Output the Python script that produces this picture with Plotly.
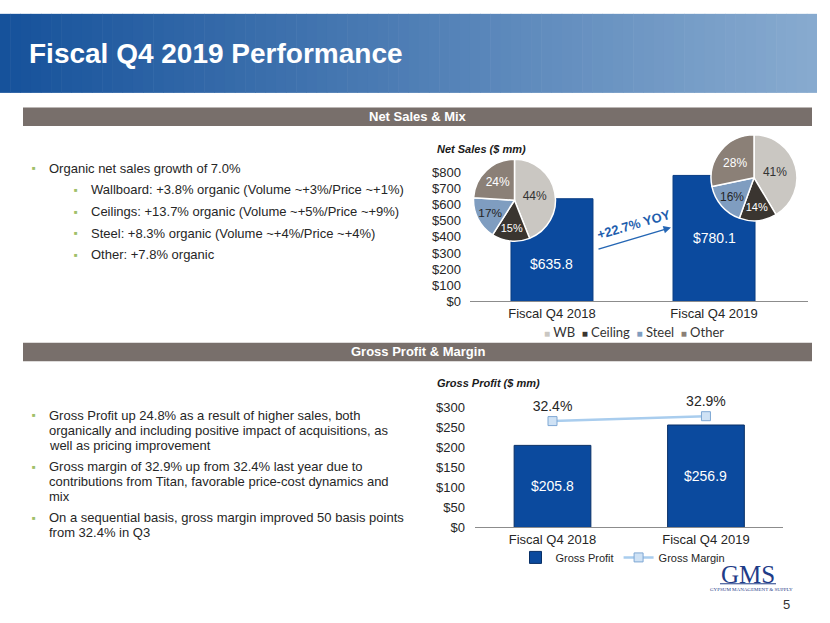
import plotly.graph_objects as go

W, H = 830, 623

# ---------------- data ----------------
periods = ["Fiscal Q4 2018", "Fiscal Q4 2019"]
net_sales = [635.8, 780.1]
mix_labels = ["WB", "Ceiling", "Steel", "Other"]
mix_2018 = [44, 15, 17, 24]
mix_2019 = [41, 14, 16, 28]
gross_profit = [205.8, 256.9]
gross_margin = [32.4, 32.9]
yoy_text = "+22.7% YOY"
net_ticks = [0, 100, 200, 300, 400, 500, 600, 700, 800]
gp_ticks = [0, 50, 100, 150, 200, 250, 300]

title = "Fiscal Q4 2019 Performance"
section1 = "Net Sales & Mix"
section2 = "Gross Profit & Margin"
bullets_top = [
    (0, "Organic net sales growth of 7.0%"),
    (1, "Wallboard: +3.8% organic (Volume ~+3%/Price ~+1%)"),
    (1, "Ceilings: +13.7% organic (Volume ~+5%/Price ~+9%)"),
    (1, "Steel: +8.3% organic (Volume ~+4%/Price ~+4%)"),
    (1, "Other: +7.8% organic"),
]
bullets_bottom = [
    ["Gross Profit up 24.8% as a result of higher sales, both",
     "organically and including positive impact of acquisitions, as",
     "well as pricing improvement"],
    ["Gross margin of 32.9% up from 32.4% last year due to",
     "contributions from Titan, favorable price-cost dynamics and",
     "mix"],
    ["On a sequential basis, gross margin improved 50 basis points",
     "from 32.4% in Q3"],
]

# ---------------- styles ----------------
FONT = "Arial, Liberation Sans, sans-serif"
BAR_BLUE = "#0b4a9e"
MIX_COLORS = ["#cac7c2", "#3a3530", "#7f9dc0", "#8b8077"]
MIX_TEXT = ["#333333", "#ffffff", "#262626", "#ffffff"]
GREY_BAR = "#786f6b"
TXT = "#262626"
BULLET = "#9fbf6a"


def px(x):
    return x / W


def py(y):
    return 1 - y / H


fig = go.Figure()

# Net sales bars
fig.add_trace(go.Bar(x=periods, y=net_sales, marker=dict(color=BAR_BLUE, line=dict(color="#083c82", width=1)),
                     width=0.506, xaxis="x", yaxis="y", showlegend=False, hoverinfo="skip"))

# Pies
for vals, dom in [(mix_2018, ([472, 557], [240, 156])), (mix_2019, ([710, 798], [219, 131]))]:
    fig.add_trace(go.Pie(labels=mix_labels, values=vals, sort=False, direction="clockwise", rotation=0,
                         marker=dict(colors=MIX_COLORS, line=dict(color="white", width=1.5)),
                         texttemplate="%{value}%", textposition="inside", insidetextorientation="horizontal",
                         textfont=dict(family=FONT, size=12, color=MIX_TEXT),
                         domain=dict(x=[px(dom[0][0]), px(dom[0][1])], y=[py(dom[1][0]), py(dom[1][1])]),
                         showlegend=False, hoverinfo="skip"))

# Gross profit bars
fig.add_trace(go.Bar(x=periods, y=gross_profit, name="Gross Profit",
                     marker=dict(color=BAR_BLUE, line=dict(color="#082f66", width=1)),
                     width=0.50, xaxis="x2", yaxis="y2", hoverinfo="skip"))
# Gross margin line
fig.add_trace(go.Scatter(x=periods, y=gross_margin, name="Gross Margin", mode="lines+markers+text",
                         text=[f"{v}%" for v in gross_margin], textposition="top center", cliponaxis=False,
                         textfont=dict(family=FONT, size=14, color=TXT),
                         line=dict(color="#a9cdee", width=2.5),
                         marker=dict(symbol="square", size=9, color="#cfe2f5", line=dict(color="#7fa8d4", width=1)),
                         xaxis="x2", yaxis="y3", hoverinfo="skip"))

shapes = []
# Header gradient
n = 80
x0h, x1h, y0h, y1h = 0, 817, 7, 88
c0 = (22, 82, 155)
c1 = (135, 170, 207)
for i in range(n):
    t = i / (n - 1)
    col = tuple(int(round(c0[k] + (c1[k] - c0[k]) * t)) for k in range(3))
    xa = x0h + (x1h - x0h) * i / n
    xb = x0h + (x1h - x0h) * (i + 1) / n + 0.6
    shapes.append(dict(type="rect", xref="paper", yref="paper", x0=px(xa), x1=px(min(xb, x1h)),
                       y0=py(y1h), y1=py(y0h), line=dict(width=0), fillcolor="rgb(%d,%d,%d)" % col, layer="below"))
# Section bars
for (ya, yb) in [(103, 122), (344, 363)]:
    shapes.append(dict(type="rect", xref="paper", yref="paper", x0=px(23), x1=px(812), y0=py(yb), y1=py(ya),
                       line=dict(width=0), fillcolor=GREY_BAR, layer="below"))
# GMS logo underline
shapes.append(dict(type="line", xref="paper", yref="paper", x0=px(720), x1=px(776), y0=py(591), y1=py(591),
                   line=dict(color="#1f3c88", width=1)))


def note(text, x, y, size, color, family=FONT, xanchor="center", **kw):
    return dict(text=text, x=px(x), y=py(y), xref="paper", yref="paper", xanchor=xanchor, yanchor="middle",
                showarrow=False, font=dict(family=family, size=size, color=color), **kw)


ann = []
ann.append(note(f"<b>{title}</b>", 27, 48, 28, "white", xanchor="left"))
for txt, yc in [(section1, 112.5), (section2, 353.5)]:
    ann.append(note(f"<b>{txt}</b>", 417.5, yc, 13, "white"))

# Top bullets
top_y = [165, 187.3, 209.7, 231.7, 253.7]
for (lvl, txt), yy in zip(bullets_top, top_y):
    bx = 34 if lvl == 0 else 76
    tx = 47 if lvl == 0 else 89
    ann.append(note("■", bx, yy, 6, BULLET))
    ann.append(note(txt, tx, yy, 13, TXT, xanchor="left"))
# Bottom bullets
bot_start = [418.3, 471, 523.3]
for lines, y0 in zip(bullets_bottom, bot_start):
    ann.append(note("■", 34, y0, 6, BULLET))
    for j, line in enumerate(lines):
        ann.append(note(line, 47, y0 + j * 15.4, 13, TXT, xanchor="left"))

# Chart titles
ann.append(note("<b><i>Net Sales ($ mm)</i></b>", 435, 145, 11, "#1a1a1a", xanchor="left"))
ann.append(note("<b><i>Gross Profit ($ mm)</i></b>", 435, 385, 11, "#1a1a1a", xanchor="left"))

# Bar value labels
shift_top = [-14, 0]
for p, v, s in zip(periods, net_sales, shift_top):
    ann.append(dict(text=f"${v:.1f}", x=p, y=v / 2, xref="x", yref="y", yshift=s, showarrow=False,
                    xanchor="center", yanchor="middle", font=dict(family=FONT, size=14, color="white")))
for p, v in zip(periods, gross_profit):
    ann.append(dict(text=f"${v:.1f}", x=p, y=v / 2, xref="x2", yref="y2", showarrow=False,
                    xanchor="center", yanchor="middle", font=dict(family=FONT, size=14, color="white")))

# YOY arrow and text
ann.append(dict(text="", x=px(671), y=py(226), xref="paper", yref="paper", ax=-74, ay=22, axref="pixel",
                ayref="pixel", showarrow=True, arrowhead=2, arrowsize=1, arrowwidth=1.5, arrowcolor="#2466b4"))
ann.append(note(f"<b>{yoy_text}</b>", 634, 223, 13, "#1f5fae", textangle=-16))

# Pie legend (custom)
leg_parts = []
for lab, col in zip(mix_labels, MIX_COLORS):
    leg_parts.append(f"<span style='color:{col};font-size:10px'>■</span> {lab}")
ann.append(note("  ".join(leg_parts), 634, 333, 13, "#333333", family="Lato, Open Sans, sans-serif"))

# Logo & page number
SERIF = "Liberation Serif, Times New Roman, serif"
ann.append(note("GMS", 748, 581, 25, "#1f3c88", family=SERIF, height=20))
ann.append(note("GYPSUM MANAGEMENT &amp; SUPPLY", 751, 597, 5, "#1f3c88", family=SERIF))
ann.append(note("5", 786, 612, 13, "#333333"))

axis_common = dict(showgrid=False, zeroline=False, ticks="", tickfont=dict(family=FONT, size=13, color=TXT),
                   fixedrange=True)

fig.update_layout(
    width=W, height=H, margin=dict(l=0, r=0, t=0, b=0), autosize=False,
    paper_bgcolor="white", plot_bgcolor="rgba(0,0,0,0)",
    font=dict(family=FONT, color=TXT),
    xaxis=dict(domain=[px(470), px(808)], anchor="y", range=[-0.506, 1.58], showline=True, linecolor="#8c8c8c",
               linewidth=1.3, **axis_common),
    yaxis=dict(domain=[py(301.7), py(169.3)], anchor="x", range=[0, 800], tickvals=net_ticks,
               ticktext=[f"${v}" for v in net_ticks], showline=False, ticklabelstandoff=8, **axis_common),
    xaxis2=dict(domain=[px(475), px(783)], anchor="y2", range=[-0.505, 1.502], showline=True, linecolor="#8c8c8c",
                linewidth=1.3, **axis_common),
    yaxis2=dict(domain=[py(533.3), py(410.7)], anchor="x2", range=[0, 300], tickvals=gp_ticks,
                ticktext=[f"${v}" for v in gp_ticks], showline=False, ticklabelstandoff=9, **axis_common),
    yaxis3=dict(overlaying="y2", anchor="x2", range=[21.5, 33.76], visible=False, fixedrange=True),
    showlegend=True,
    legend=dict(orientation="h", x=px(623), y=py(564), xanchor="center", yanchor="middle",
                font=dict(family=FONT, size=11, color=TXT), bgcolor="rgba(0,0,0,0)", itemwidth=30,
                tracegroupgap=0),
    shapes=shapes, annotations=ann,
)

fig.write_html("out.html", post_script="document.body.style.margin='0px';document.body.style.overflow='hidden';",
               config={"displayModeBar": False})
